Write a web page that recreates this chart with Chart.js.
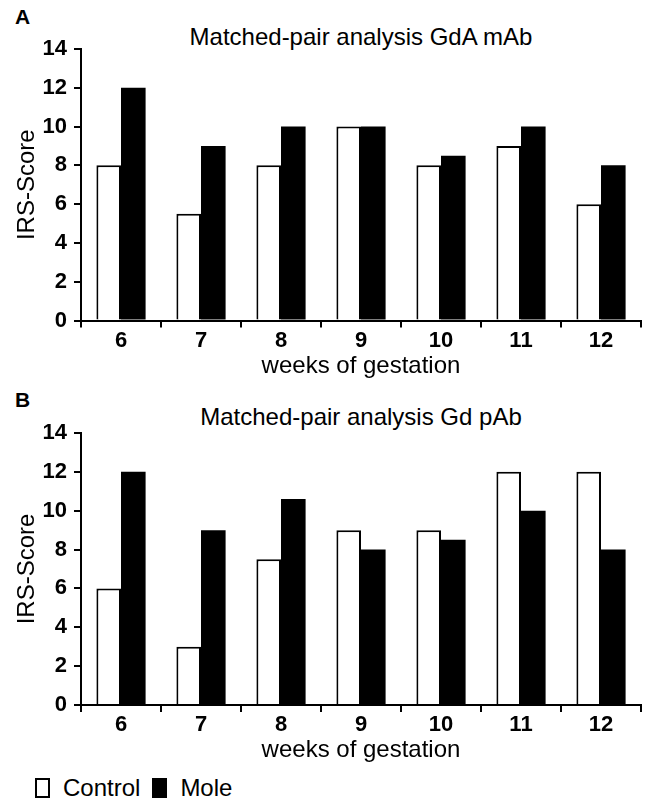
<!DOCTYPE html>
<html>
<head>
<meta charset="utf-8">
<title>Matched-pair analysis</title>
<script src="https://cdn.jsdelivr.net/npm/chart.js@4.4.1/dist/chart.umd.min.js"></script>
<style>
  body { margin: 0; background: #fff; color: #000; font-family: 'Liberation Sans', Arial, sans-serif; }
  #page { position: relative; width: 645px; height: 803px; overflow: hidden; }
  .panel { position: absolute; left: 0; width: 645px; height: 385px; }
  .letter { position: absolute; left: 15px; font-weight: bold; font-size: 21px; line-height: 24px; }
  .chart-title { position: absolute; left: 81px; width: 560px; text-align: center; font-size: 24px; line-height: 28px; }
  #legend { position: absolute; left: 35px; top: 774px; height: 28px; display: flex; align-items: center; font-size: 24px; line-height: 28px; }
  .legend-box { display: inline-block; box-sizing: border-box; width: 15px; height: 20px; border: 2px solid #000; margin-right: 13px; }
  .legend-item { display: flex; align-items: center; margin-right: 12px; }
</style>
</head>
<body>
<div id="page">
  <div class="letter" style="top:5px">A</div>
  <div class="chart-title" style="top:23px">Matched-pair analysis GdA mAb</div>
  <canvas id="chartA" class="panel" width="645" height="385" style="top:0px"></canvas>

  <div class="letter" style="top:388px">B</div>
  <div class="chart-title" style="top:403px">Matched-pair analysis Gd pAb</div>
  <canvas id="chartB" class="panel" width="645" height="385" style="top:384px"></canvas>

  <div id="legend"></div>
</div>
<script>
const weeks = ['6', '7', '8', '9', '10', '11', '12'];
const seriesNames = ['Control', 'Mole'];
const seriesFill = ['#ffffff', '#000000'];

// panel A - GdA mAb
const controlA = [8, 5.5, 8, 10, 8, 9, 6];
const moleA = [12, 9, 10, 10, 8.5, 10, 8];

// panel B - Gd pAb
const controlB = [6, 3, 7.5, 9, 9, 12, 12];
const moleB = [12, 9, 10.6, 8, 8.5, 10, 8];

const yMin = 0;
const yMax = 14;
const yStep = 2;

Chart.defaults.font.family = "'Liberation Sans', Arial, sans-serif";
Chart.defaults.color = '#000';

function renderChart(canvasId, control, mole, padBottom){
    return new Chart(document.getElementById(canvasId), {
        type: 'bar',
        data: {
            labels: weeks,
            datasets: [{
                label: seriesNames[0],
                data: control,
                backgroundColor: seriesFill[0],
                borderColor: '#000',
                borderWidth: 2
            }, {
                label: seriesNames[1],
                data: mole,
                backgroundColor: seriesFill[1],
                borderColor: '#000',
                borderWidth: 0
            }]
        },
        options: {
            responsive: false,
            animation: false,
            devicePixelRatio: 1,
            categoryPercentage: 0.615,
            barPercentage: 1,
            layout: { padding: { top: 49, right: 4, bottom: padBottom, left: 0 } },
            plugins: {
                legend: { display: false },
                tooltip: { enabled: false }
            },
            scales: {
                x: {
                    grid: { display: true, drawOnChartArea: false, drawTicks: true, tickLength: 7, color: '#000', lineWidth: 2, offset: true },
                    border: { display: true, color: '#000', width: 2 },
                    ticks: { color: '#000', padding: 0, font: { size: 22, weight: 'bold' } },
                    title: { display: true, text: 'weeks of gestation', color: '#000', font: { size: 24 }, padding: 0 },
                    afterFit: (scale) => { scale.height = 60; }
                },
                y: {
                    min: yMin,
                    max: yMax,
                    grid: { display: true, drawOnChartArea: false, drawTicks: true, tickLength: 7, color: '#000', lineWidth: 2 },
                    border: { display: true, color: '#000', width: 2 },
                    ticks: { stepSize: yStep, color: '#000', padding: 7, font: { size: 22, weight: 'bold' } },
                    title: { display: true, text: 'IRS-Score', color: '#000', font: { size: 24 }, padding: { top: 13, bottom: 0 } },
                    afterFit: (scale) => { scale.width = 81; }
                }
            }
        }
    });
}

function renderLegend(){
    const legend = document.getElementById('legend');
    seriesNames.forEach((name, i) => {
        const item = document.createElement('span');
        item.className = 'legend-item';
        const box = document.createElement('span');
        box.className = 'legend-box';
        box.style.backgroundColor = seriesFill[i];
        const text = document.createElement('span');
        text.textContent = name;
        item.appendChild(box);
        item.appendChild(text);
        legend.appendChild(item);
    });
}

renderChart('chartA', controlA, moleA, 4.5);
renderChart('chartB', controlB, moleB, 4);
renderLegend();
</script>
</body>
</html>
